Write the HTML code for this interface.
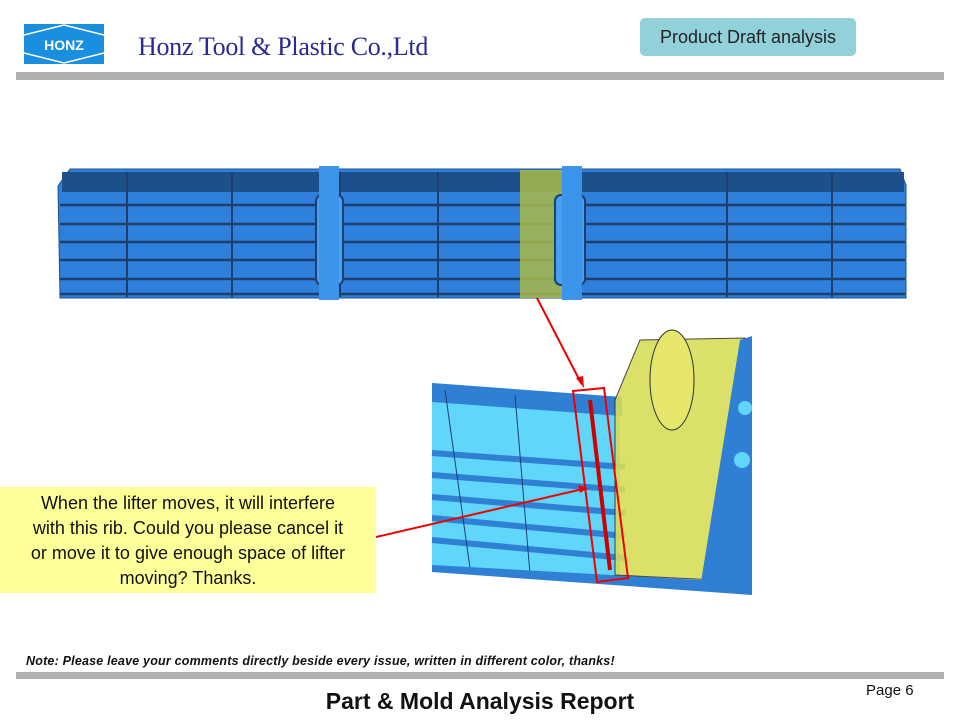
<!DOCTYPE html>
<html><head><style>
body{margin:0;width:960px;height:720px;background:#fff;position:relative;overflow:hidden;font-family:"Liberation Sans",sans-serif}
.a{position:absolute}
</style></head><body>
<div class="a" style="left:24px;top:24px;width:80px;height:40px;background:#1a8fe0"></div>
<svg class="a" style="left:24px;top:24px" width="80" height="40"><polyline points="0,11 40,1 80,11" fill="none" stroke="#fff" stroke-width="1.5"/><polyline points="0,29 40,39 80,29" fill="none" stroke="#fff" stroke-width="1.5"/><text x="40" y="26" fill="#fff" font-size="14" font-weight="bold" text-anchor="middle" font-family="Liberation Sans">HONZ</text></svg>
<div class="a" style="left:138px;top:32px;font-family:'Liberation Serif',serif;font-size:26px;color:#2b2b8f;letter-spacing:-0.3px">Honz Tool &amp; Plastic Co.,Ltd</div>
<div class="a" style="left:640px;top:18px;width:216px;height:38px;background:#92d1d9;border-radius:5px;font-size:18px;line-height:38px;text-align:center;color:#222">Product Draft analysis</div>
<div class="a" style="left:16px;top:72px;width:928px;height:8px;background:#b0b0b0"></div>

<svg class="a" style="left:0;top:0" width="960" height="720">
<path d="M70,169 L900,169 L906,185 L906,298 L60,298 L58,186 Z" fill="#2f80dc" stroke="#1e4f8e"/>
<rect x="62" y="172" width="842" height="20" fill="#1d4f8a"/>
<g stroke="#1e3f6e" stroke-width="2.5">
<line x1="60" y1="205" x2="905" y2="205"/><line x1="60" y1="224" x2="905" y2="224"/><line x1="60" y1="242" x2="905" y2="242"/><line x1="60" y1="260" x2="905" y2="260"/><line x1="60" y1="279" x2="905" y2="279"/><line x1="60" y1="294" x2="905" y2="294"/>
</g>
<g stroke="#1e3f6e" stroke-width="2">
<line x1="127" y1="172" x2="127" y2="297"/><line x1="232" y1="172" x2="232" y2="297"/><line x1="340" y1="172" x2="340" y2="297"/><line x1="438" y1="172" x2="438" y2="297"/><line x1="727" y1="172" x2="727" y2="297"/><line x1="832" y1="172" x2="832" y2="297"/>
</g>
<rect x="520" y="170" width="42" height="128" fill="#a8b848" opacity="0.85"/>
<rect x="316" y="195" width="27" height="90" rx="6" fill="#4aa0f0" stroke="#1e3f6e" stroke-width="2"/>
<rect x="319" y="166" width="20" height="134" fill="#3a95ea"/>
<rect x="555" y="195" width="30" height="90" rx="6" fill="#4aa0f0" stroke="#1e3f6e" stroke-width="2"/>
<rect x="562" y="166" width="20" height="134" fill="#3a95ea"/>

<path d="M432,383 L620,397 L620,582 L432,565 Z" fill="#5fd6fa"/>
<path d="M432,383 L622,397 L622,416 L432,402 Z" fill="#2f7fd4"/>
<g stroke="#2f7fd4" stroke-width="6">
<line x1="432" y1="453" x2="625" y2="467"/><line x1="432" y1="475" x2="625" y2="490"/><line x1="432" y1="497" x2="625" y2="513"/><line x1="432" y1="518" x2="625" y2="536"/><line x1="432" y1="540" x2="625" y2="558"/>
</g>
<g stroke="#1e3f6e" stroke-width="1"><line x1="445" y1="390" x2="470" y2="568"/><line x1="515" y1="395" x2="530" y2="574"/></g>
<path d="M432,565 L700,580 L752,590 L752,595 L432,572 Z" fill="#2f7fd4"/>
<path d="M615,400 L640,340 L745,338 L715,580 L615,575 Z" fill="#d6dd58" opacity="0.9" stroke="#333" stroke-width="1"/>
<ellipse cx="672" cy="380" rx="22" ry="50" fill="#e6e66a" stroke="#333"/>
<path d="M740,340 L752,336 L752,592 L700,588 Z" fill="#2f7fd4"/>
<circle cx="745" cy="408" r="7" fill="#5fd6fa"/><circle cx="742" cy="460" r="8" fill="#5fd6fa"/>
<line x1="590" y1="400" x2="610" y2="570" stroke="#c00" stroke-width="4"/>
<polygon points="573,391 604,388 628,578 597,582" fill="none" stroke="#e00" stroke-width="2"/>
<line x1="537" y1="298" x2="581" y2="383" stroke="#e00" stroke-width="2"/>
<polygon points="584,388 576,378 583,376" fill="#e00"/>
<line x1="376" y1="537" x2="583" y2="489" stroke="#e00" stroke-width="2"/>
<polygon points="588,488 578,485 580,493" fill="#e00"/>
</svg>

<div class="a" style="left:0;top:487px;width:376px;height:106px;background:#ffff99;font-size:18px;line-height:25px;text-align:center;color:#111;box-sizing:border-box;padding:4px 10px 0">When the lifter moves, it will interfere<br>with this rib. Could you please cancel it<br>or move it to give enough space of lifter<br>moving? Thanks.</div>
<div class="a" style="left:26px;top:654px;font-size:12.5px;font-weight:bold;font-style:italic;color:#111;letter-spacing:0.2px">Note: Please leave your comments directly beside every issue, written in different color, thanks!</div>
<div class="a" style="left:16px;top:672px;width:928px;height:7px;background:#b0b0b0"></div>
<div class="a" style="left:866px;top:682px;font-size:15px;color:#111">Page 6</div>
<div class="a" style="left:0;top:688px;width:960px;text-align:center;font-size:23px;font-weight:bold;color:#111">Part &amp; Mold Analysis Report</div>
</body></html>
